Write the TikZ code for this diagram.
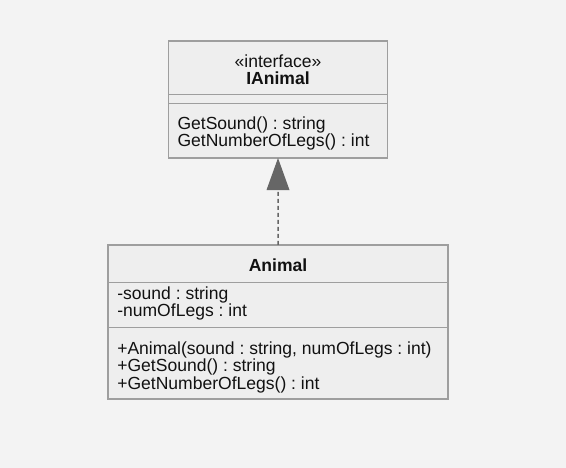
\documentclass[tikz,border=0pt]{standalone}
\usepackage{fontspec}
\setmainfont{Liberation Sans}
\usepackage{xcolor}
\usepackage{tikz}
\usetikzlibrary{calc}
\usetikzlibrary{arrows.meta}
\definecolor{fond}{HTML}{F3F3F3}
\definecolor{boite}{HTML}{EEEEEE}
\definecolor{bord}{HTML}{9E9E9E}
\definecolor{fleche}{HTML}{666666}
\definecolor{encre}{HTML}{111111}
\frenchspacing

\begin{document}
\begin{tikzpicture}[x=1bp,y=-1bp,
        every node/.style={inner sep=0pt, outer sep=0pt, text=encre,
            font=\fontsize{17.6}{17.5}\selectfont},
        gras/.style={font=\fontsize{17.6}{17.5}\selectfont\bfseries},
        classe/.style={draw=bord, fill=boite, line width=1.6bp, anchor=north west},
        trait/.style={draw=bord, line width=1.5bp},
        realise/.style={draw=fleche, line width=1.5bp, dash pattern=on 4bp off 3bp,
            -{Triangle[width=22.6bp, length=32bp, fill=fleche]}}]
            \fill[fond] (0,0) rectangle (566,468);
            \useasboundingbox (0,0) rectangle (566,468);
            % interface
            \node[classe, minimum width=219bp, minimum height=117bp] (iface) at (168.5,41) {};
            \foreach \y in {94.3,103.3} {
                \draw[trait] (iface.west |- 0,\y) -- (iface.east |- 0,\y);
            }
            \node[anchor=base] (istereo) at (278,68) {«interface»};
            \node[gras, anchor=base] (inom) at (278,85) {IAnimal};
            \foreach \t [count=\i] in {GetSound() : string, GetNumberOfLegs() : int} {
                \node[anchor=base west] (im\i) at (177.5,129.3+17.5*\i-17.5) {\t};
            }
            % classe
            \node[classe, minimum width=340bp, minimum height=154bp] (animal) at (108,245) {};
            \foreach \y in {282.3,327.7} {
                \draw[trait] (animal.west |- 0,\y) -- (animal.east |- 0,\y);
            }
            \node[gras, anchor=base] (anom) at (278,272) {Animal};
            \foreach \t [count=\i] in {-sound : string, -numOfLegs : int} {
                \node[anchor=base west] (aa\i) at (117.3,299.3+17.5*\i-17.5) {\t};
            }
            \foreach \t [count=\i] in {{+Animal(sound : string, numOfLegs : int)}, +GetSound() : string, +GetNumberOfLegs() : int} {
                \node[anchor=base west] (am\i) at (117.3,354.3+17.5*\i-17.5) {\t};
            }
            \draw[realise] (animal.north) -- (iface.south);
\end{tikzpicture}
\end{document}
